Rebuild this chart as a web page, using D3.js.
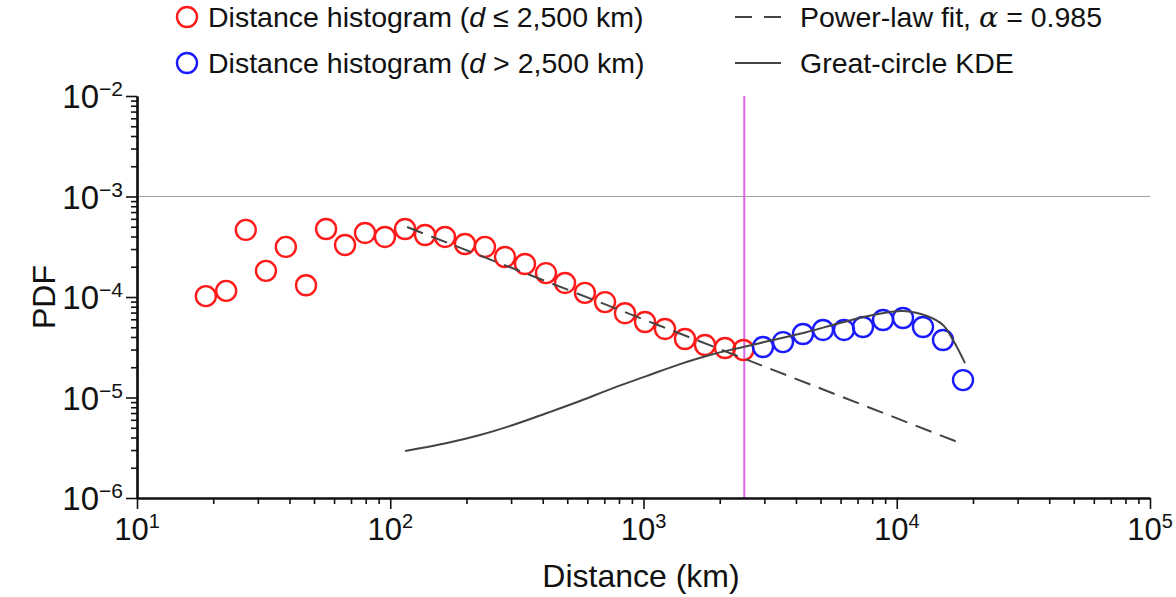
<!DOCTYPE html>
<html><head><meta charset="utf-8">
<script src="https://cdn.jsdelivr.net/npm/d3@7"></script>
<style>
body{margin:0;background:#fff}
text{font-family:"Liberation Sans",Arial,Helvetica,sans-serif;fill:#111}
</style>
</head><body>
<svg id="chart" width="1176" height="597"></svg>
<script>
// ---- data ----
const redX = [18.7,22.5,26.9,32.3,38.7,46.5,55.8,66.3,79.5,95.3,114.4,137.2,164.5,197.3,236.6,283.9,340.5,412,490,587,705,845,1014,1216,1458,1749,2098,2480];
const redY = [1.02e-4,1.15e-4,4.65e-4,1.82e-4,3.15e-4,1.31e-4,4.75e-4,3.29e-4,4.34e-4,3.96e-4,4.75e-4,4.14e-4,3.96e-4,3.37e-4,3.15e-4,2.50e-4,2.13e-4,1.73e-4,1.38e-4,1.10e-4,8.9e-5,6.9e-5,5.64e-5,4.81e-5,3.82e-5,3.33e-5,3.11e-5,2.97e-5];
const blueX = [2964,3555,4264,5114,6190,7358,8825,10585,12694,15227,18265];
const blueY = [3.18e-5,3.56e-5,4.28e-5,4.70e-5,4.70e-5,5.03e-5,5.90e-5,6.18e-5,5.03e-5,3.73e-5,1.49e-5];
const fitX = [116.5, 17780];
const fitY = [4.97e-4, 3.53e-6];
const kdeX = [114.4,167.5,226.1,305.3,415.9,561.5,758,1032,1394,1830,2472,3246,4422,5969,8058,10585,13167,15227,16680,18600];
const kdeY = [2.94e-6,3.53e-6,4.24e-6,5.33e-6,7.01e-6,9.23e-6,1.24e-5,1.64e-5,2.15e-5,2.65e-5,3.18e-5,3.73e-5,4.49e-5,5.51e-5,6.62e-5,7.26e-5,6.47e-5,5.26e-5,3.73e-5,2.20e-5];
const cutoff = 2500;
const refLineY = 1e-3;
const xMajorExp = [1,2,3,4,5];
const yMajorExp = [-6,-5,-4,-3,-2];
const legendLabels = ["Distance histogram (", "d", " \u2264 2,500 km)"];
const legendLabels2 = ["Distance histogram (", "d", " > 2,500 km)"];
const legendFit = "Power-law fit, ";
const legendKde = "Great-circle KDE";

// ---- layout ----
const svg = d3.select("#chart");
const x = d3.scaleLog().domain([10, 1e5]).range([137, 1150]);
const y = d3.scaleLog().domain([1e-6, 1e-2]).range([498, 96]);

const xMajor = xMajorExp.map(e => Math.pow(10, e));
const yMajor = yMajorExp.map(e => Math.pow(10, e));
const xMinor = [], yMinor = [];
for (let e = 1; e < 5; e++) for (let k = 2; k <= 9; k++) xMinor.push(k * Math.pow(10, e));
for (let e = -6; e < -2; e++) for (let k = 2; k <= 9; k++) yMinor.push(k * Math.pow(10, e));

// reference lines
svg.append("line").attr("x1", x(10)).attr("x2", x(1e5)).attr("y1", y(refLineY)).attr("y2", y(refLineY))
  .attr("stroke", "#a0a0a0").attr("stroke-width", 1.2);
svg.append("line").attr("x1", x(cutoff)).attr("x2", x(cutoff)).attr("y1", y(1e-2)).attr("y2", y(1e-6))
  .attr("stroke", "#dd66e6").attr("stroke-width", 2);

// axes
function styleAxis(g){
  g.selectAll(".tick line").attr("stroke", "#111").attr("stroke-width", 1.6);
  g.select(".domain").attr("stroke", "#111").attr("stroke-width", 2.2);
}
const gxMin = svg.append("g").attr("transform", `translate(0,${y(1e-6)})`)
  .call(d3.axisBottom(x).tickValues(xMinor).tickSize(6).tickSizeOuter(0).tickFormat(""));
const gxMaj = svg.append("g").attr("transform", `translate(0,${y(1e-6)})`)
  .call(d3.axisBottom(x).tickValues(xMajor).tickSize(11).tickSizeOuter(0).tickFormat(""));
const gyMin = svg.append("g").attr("transform", `translate(${x(10)},0)`)
  .call(d3.axisLeft(y).tickValues(yMinor).tickSize(6).tickSizeOuter(0).tickFormat(""));
const gyMaj = svg.append("g").attr("transform", `translate(${x(10)},0)`)
  .call(d3.axisLeft(y).tickValues(yMajor).tickSize(11).tickSizeOuter(0).tickFormat(""));
[gxMin, gxMaj, gyMin, gyMaj].forEach(styleAxis);

// tick labels with superscripts
xMajorExp.forEach(e => {
  const t = svg.append("text").attr("x", x(Math.pow(10, e))).attr("y", 540)
    .attr("text-anchor", "middle").attr("font-size", 31);
  t.append("tspan").text("10");
  t.append("tspan").attr("font-size", 20).attr("dy", -12).text(String(e));
});
yMajorExp.forEach(e => {
  const t = svg.append("text").attr("x", 123).attr("y", y(Math.pow(10, e)) + 12)
    .attr("text-anchor", "end").attr("font-size", 33);
  t.append("tspan").text("10");
  t.append("tspan").attr("font-size", 21).attr("dy", -12).text("\u2212" + Math.abs(e));
});

// axis titles
svg.append("text").attr("x", 641).attr("y", 587).attr("text-anchor", "middle")
  .attr("font-size", 32).text("Distance (km)");
svg.append("text").attr("transform", `translate(55,${(y(1e-2)+y(1e-6))/2}) rotate(-90)`)
  .attr("text-anchor", "middle").attr("font-size", 32).text("PDF");

// points
const red = redX.map((d, i) => [d, redY[i]]);
const blue = blueX.map((d, i) => [d, blueY[i]]);
svg.append("g").selectAll("circle").data(red).join("circle")
  .attr("cx", d => x(d[0])).attr("cy", d => y(d[1])).attr("r", 10)
  .attr("fill", "none").attr("stroke", "#ff1a1a").attr("stroke-width", 2.4);
svg.append("g").selectAll("circle").data(blue).join("circle")
  .attr("cx", d => x(d[0])).attr("cy", d => y(d[1])).attr("r", 10)
  .attr("fill", "none").attr("stroke", "#1a1aff").attr("stroke-width", 2.4);

// lines
const line = d3.line().x(d => x(d[0])).y(d => y(d[1]));
svg.append("path").datum(fitX.map((d, i) => [d, fitY[i]])).attr("d", line)
  .attr("fill", "none").attr("stroke", "#444").attr("stroke-width", 2).attr("stroke-dasharray", "17,9");
svg.append("path").datum(kdeX.map((d, i) => [d, kdeY[i]])).attr("d", line.curve(d3.curveCatmullRom))
  .attr("fill", "none").attr("stroke", "#444").attr("stroke-width", 2);

// legend
const lg = svg.append("g");
lg.append("circle").attr("cx", 187).attr("cy", 17).attr("r", 10).attr("fill", "none").attr("stroke", "#ff1a1a").attr("stroke-width", 2.4);
lg.append("circle").attr("cx", 187).attr("cy", 63).attr("r", 10).attr("fill", "none").attr("stroke", "#1a1aff").attr("stroke-width", 2.4);
[[legendLabels, 27], [legendLabels2, 73]].forEach(([parts, yy]) => {
  const t = lg.append("text").attr("x", 208).attr("y", yy).attr("font-size", 28.5);
  t.append("tspan").text(parts[0]);
  t.append("tspan").attr("font-style", "italic").text(parts[1]);
  t.append("tspan").text(parts[2]);
});
lg.append("line").attr("x1", 735).attr("x2", 781).attr("y1", 17).attr("y2", 17)
  .attr("stroke", "#444").attr("stroke-width", 2).attr("stroke-dasharray", "17,12");
lg.append("line").attr("x1", 735).attr("x2", 781).attr("y1", 63).attr("y2", 63)
  .attr("stroke", "#444").attr("stroke-width", 2);
const tf = lg.append("text").attr("x", 800).attr("y", 27).attr("font-size", 28.5);
tf.append("tspan").text(legendFit);
tf.append("tspan").attr("font-style", "italic").attr("font-family", "DejaVu Serif").text("\u03b1");
tf.append("tspan").text(" = 0.985");
lg.append("text").attr("x", 800).attr("y", 73).attr("font-size", 28.5).text(legendKde);
</script>
</body></html>
